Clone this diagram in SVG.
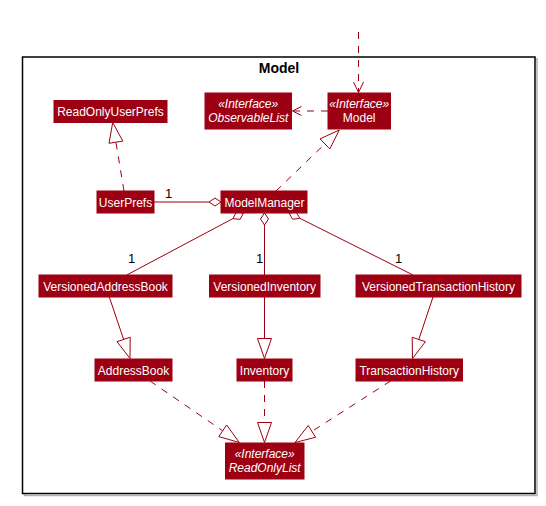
<svg xmlns="http://www.w3.org/2000/svg" width="546" height="506" viewBox="0 0 546 506">
<style>
.box{fill:#9D0012;stroke:#9D0012;stroke-width:1}
.t{font-family:"Liberation Sans",Arial,sans-serif;font-size:12px;fill:#FFFFFF;text-anchor:middle}
.i{font-style:italic}
.ln{fill:none;stroke:#9D0012;stroke-width:1}
.d{stroke-dasharray:7,7}
.hd{fill:#FFFFFF;stroke:#9D0012;stroke-width:1}
.m{font-family:"Liberation Sans",Arial,sans-serif;font-size:13px;fill:#000000}
</style>
<rect width="546" height="506" fill="#FFFFFF"/>
<g id="package-Model">
<rect x="24.5" y="59" width="512.5" height="436.5" fill="none" stroke="#B0B0B0" stroke-width="1.5"/>
<rect x="22.5" y="57" width="512.5" height="436.5" fill="#FFFFFF" stroke="#000000" stroke-width="1.5"/>
<text x="279" y="73" font-family="Liberation Sans,Arial,sans-serif" font-size="14" font-weight="bold" text-anchor="middle" fill="#000000">Model</text>
</g>
<g id="connectors">
<line class="ln d" x1="358.5" y1="32" x2="358.5" y2="92"/>
<polyline class="ln" points="353.5,82 358.5,92.5 363.5,82"/>
<line class="ln d" x1="328" y1="111" x2="293" y2="111"/>
<polyline class="ln" points="301.5,106.5 292.5,111 301.5,115.5"/>
<line class="ln d" x1="124" y1="191" x2="115.9" y2="142.2"/>
<polygon class="hd" points="112.7,122.5 122.8,141.1 109,143.3"/>
<line class="ln d" x1="276" y1="191" x2="324.9" y2="143.9"/>
<polygon class="hd" points="339.3,130 329.8,148.9 320,138.9"/>
<line class="ln" x1="154" y1="202" x2="209" y2="202"/>
<polygon class="hd" points="221,202 215,198 209,202 215,206"/>
<line class="ln" x1="232.9" y1="218.6" x2="126.7" y2="275"/>
<polygon class="hd" points="243.5,213 236.3,212.3 232.9,218.6 240.1,219.4"/>
<line class="ln" x1="264.5" y1="225" x2="264.5" y2="275"/>
<polygon class="hd" points="264.5,213 268.5,219 264.5,225 260.5,219"/>
<line class="ln" x1="299.8" y1="218.3" x2="413" y2="275"/>
<polygon class="hd" points="289,213 296.2,212.1 299.8,218.3 292.6,219.3"/>
<line class="ln" x1="109.3" y1="297" x2="123.6" y2="339.4"/>
<polygon class="hd" points="130,358.5 130.2,337.2 117,341.7"/>
<line class="ln" x1="264.5" y1="297" x2="264.5" y2="338.5"/>
<polygon class="hd" points="264.5,358.5 271.5,338.5 257.5,338.5"/>
<line class="ln" x1="433" y1="297" x2="418.8" y2="339.5"/>
<polygon class="hd" points="412.5,358.5 425.4,341.7 412.2,337.3"/>
<line class="ln d" x1="150" y1="381" x2="222.7" y2="430.8"/>
<polygon class="hd" points="239.3,442.5 226.6,425 218.8,436.6"/>
<line class="ln d" x1="264.5" y1="381" x2="264.5" y2="422.5"/>
<polygon class="hd" points="264.5,442.5 271.5,422.5 257.5,422.5"/>
<line class="ln d" x1="390.6" y1="381" x2="311.9" y2="431.4"/>
<polygon class="hd" points="295,442.5 308.2,425.5 315.6,437.3"/>
<text class="m" x="165" y="197.5">1</text>
<text class="m" x="128" y="262.5">1</text>
<text class="m" x="256" y="262.5">1</text>
<text class="m" x="395" y="262.5">1</text>
</g>
<g id="ReadOnlyUserPrefs">
<rect class="box" x="54" y="100.5" width="113" height="22"/>
<text class="t" x="110.5" y="116">ReadOnlyUserPrefs</text>
</g>
<g id="ObservableList">
<rect class="box" x="205" y="93" width="86.5" height="36"/>
<text class="t i" x="248.2" y="108">«Interface»</text>
<text class="t i" x="248.2" y="121.7">ObservableList</text>
</g>
<g id="Model">
<rect class="box" x="328" y="93" width="62.5" height="36"/>
<text class="t i" x="359.2" y="108">«Interface»</text>
<text class="t" x="359.2" y="121.7">Model</text>
</g>
<g id="UserPrefs">
<rect class="box" x="97" y="191" width="57" height="22"/>
<text class="t" x="125.5" y="206.5">UserPrefs</text>
</g>
<g id="ModelManager">
<rect class="box" x="221" y="191" width="86" height="22"/>
<text class="t" x="264.5" y="206.5">ModelManager</text>
</g>
<g id="VersionedAddressBook">
<rect class="box" x="39" y="275" width="133" height="22"/>
<text class="t" x="105.5" y="290.5">VersionedAddressBook</text>
</g>
<g id="VersionedInventory">
<rect class="box" x="209.5" y="275" width="110.5" height="22"/>
<text class="t" x="264.7" y="290.5">VersionedInventory</text>
</g>
<g id="VersionedTransactionHistory">
<rect class="box" x="356" y="275" width="165" height="22"/>
<text class="t" x="438.5" y="290.5">VersionedTransactionHistory</text>
</g>
<g id="AddressBook">
<rect class="box" x="95" y="359" width="77" height="22"/>
<text class="t" x="133.5" y="374.5">AddressBook</text>
</g>
<g id="Inventory">
<rect class="box" x="237" y="359" width="55" height="22"/>
<text class="t" x="264.5" y="374.5">Inventory</text>
</g>
<g id="TransactionHistory">
<rect class="box" x="356" y="359" width="106.5" height="22"/>
<text class="t" x="409.2" y="374.5">TransactionHistory</text>
</g>
<g id="ReadOnlyList">
<rect class="box" x="225.5" y="443" width="78.5" height="36"/>
<text class="t i" x="264.7" y="458">«Interface»</text>
<text class="t i" x="264.7" y="471.7">ReadOnlyList</text>
</g>
</svg>
